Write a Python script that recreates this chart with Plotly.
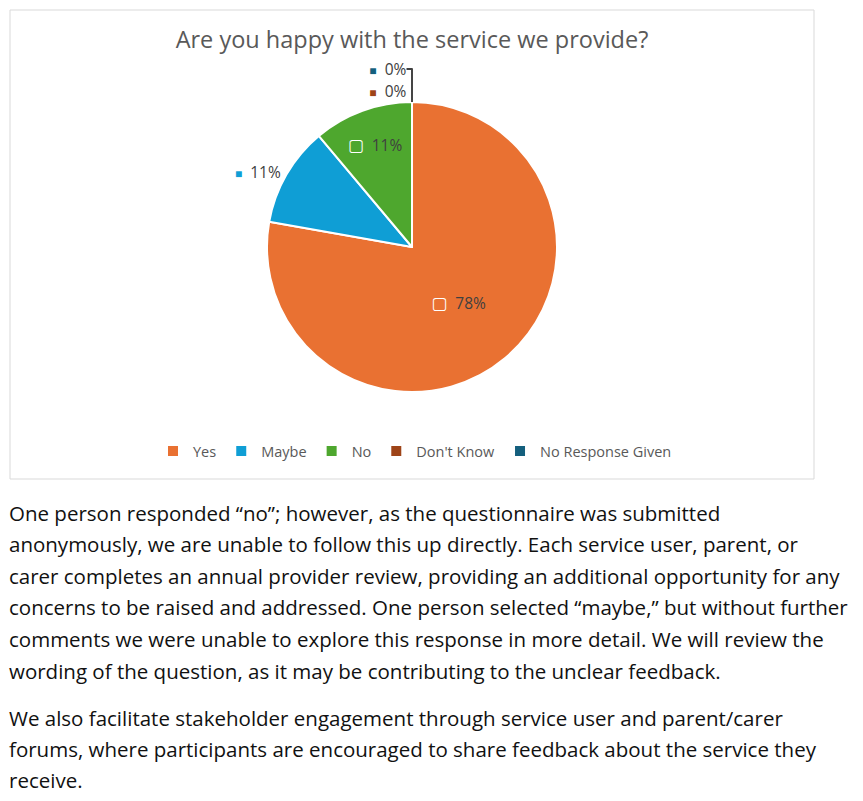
import plotly.graph_objects as go

# survey answers (number of people)
answers = ['Yes', 'Maybe', 'No', "Don't Know", 'No Response Given']
counts = [7, 1, 1, 0, 0]
colors = ['#E97132', '#0F9ED5', '#4EA72E', '#9E4418', '#145F7D']
label_inside = [True, False, True, False, False]

title = 'Are you happy with the service we provide?'

body_lines = [
    'One person responded \u201cno\u201d; however, as the questionnaire was submitted',
    'anonymously, we are unable to follow this up directly. Each service user, parent, or',
    'carer completes an annual provider review, providing an additional opportunity for any',
    'concerns to be raised and addressed. One person selected \u201cmaybe,\u201d but without further',
    'comments we were unable to explore this response in more detail. We will review the',
    'wording of the question, as it may be contributing to the unclear feedback.',
    '',
    'We also facilitate stakeholder engagement through service user and parent/carer',
    'forums, where participants are encouraged to share feedback about the service they',
    'receive.',
]
line_y = [513, 544, 576, 607, 639, 671, None, 718, 749, 780]

W, H = 863, 801
def px(x): return x / W
def py(y): return 1 - y / H

# label text with the little legend key in front, like Excel does
templates = []
for c, inside in zip(colors, label_inside):
    if inside:
        key = "<span style='color:white;font-family:DejaVu Sans;font-size:17px'><b>\u25a2</b></span>"
    else:
        key = "<span style='color:%s;font-size:12px'>\u25a0</span>" % c
    templates.append(key + '  %{percent:.0%}')

cx, cy, r = 412, 247, 145

fig = go.Figure(go.Pie(
    labels=answers,
    values=counts,
    sort=False,
    direction='clockwise',
    rotation=0,
    marker=dict(colors=colors, line=dict(color='white', width=2)),
    texttemplate=templates,
    textposition=['inside' if i else 'outside' for i in label_inside],
    insidetextorientation='horizontal',
    textfont=dict(family='Open Sans', size=15.5, color='#404040'),
    outsidetextfont=dict(family='Open Sans', size=15.5, color='#404040'),
    hoverinfo='label+value+percent',
    domain=dict(x=[px(cx - r), px(cx + r)], y=[py(cy + r), py(cy - r)]),
))

fig.update_layout(
    width=W, height=H,
    margin=dict(l=0, r=0, t=0, b=0),
    paper_bgcolor='white',
    font=dict(family='Open Sans', color='#595959'),
    title=dict(text=title, x=px(412), xanchor='center', y=py(40), yanchor='middle',
               font=dict(family='Open Sans', size=23.5, color='#595959')),
    legend=dict(orientation='h', x=px(415), xanchor='center', y=py(451), yanchor='middle',
                font=dict(family='Open Sans', size=14.5, color='#595959'),
                itemwidth=30, tracegroupgap=0),
    showlegend=True,
)

# chart frame
fig.add_shape(type='rect', xref='paper', yref='paper',
              x0=px(10), x1=px(814), y0=py(479), y1=py(10),
              line=dict(color='#D9D9D9', width=1), layer='below')

for txt, y in zip(body_lines, line_y):
    if y is None:
        continue
    fig.add_annotation(text=txt, xref='paper', yref='paper', x=px(7), y=py(y),
                       xanchor='left', yanchor='middle', showarrow=False,
                       font=dict(family='Open Sans', size=20.5, color='#111111'))

fig.write_html('out.html', config={'displayModeBar': False},
               post_script="document.body.style.margin='0';")
